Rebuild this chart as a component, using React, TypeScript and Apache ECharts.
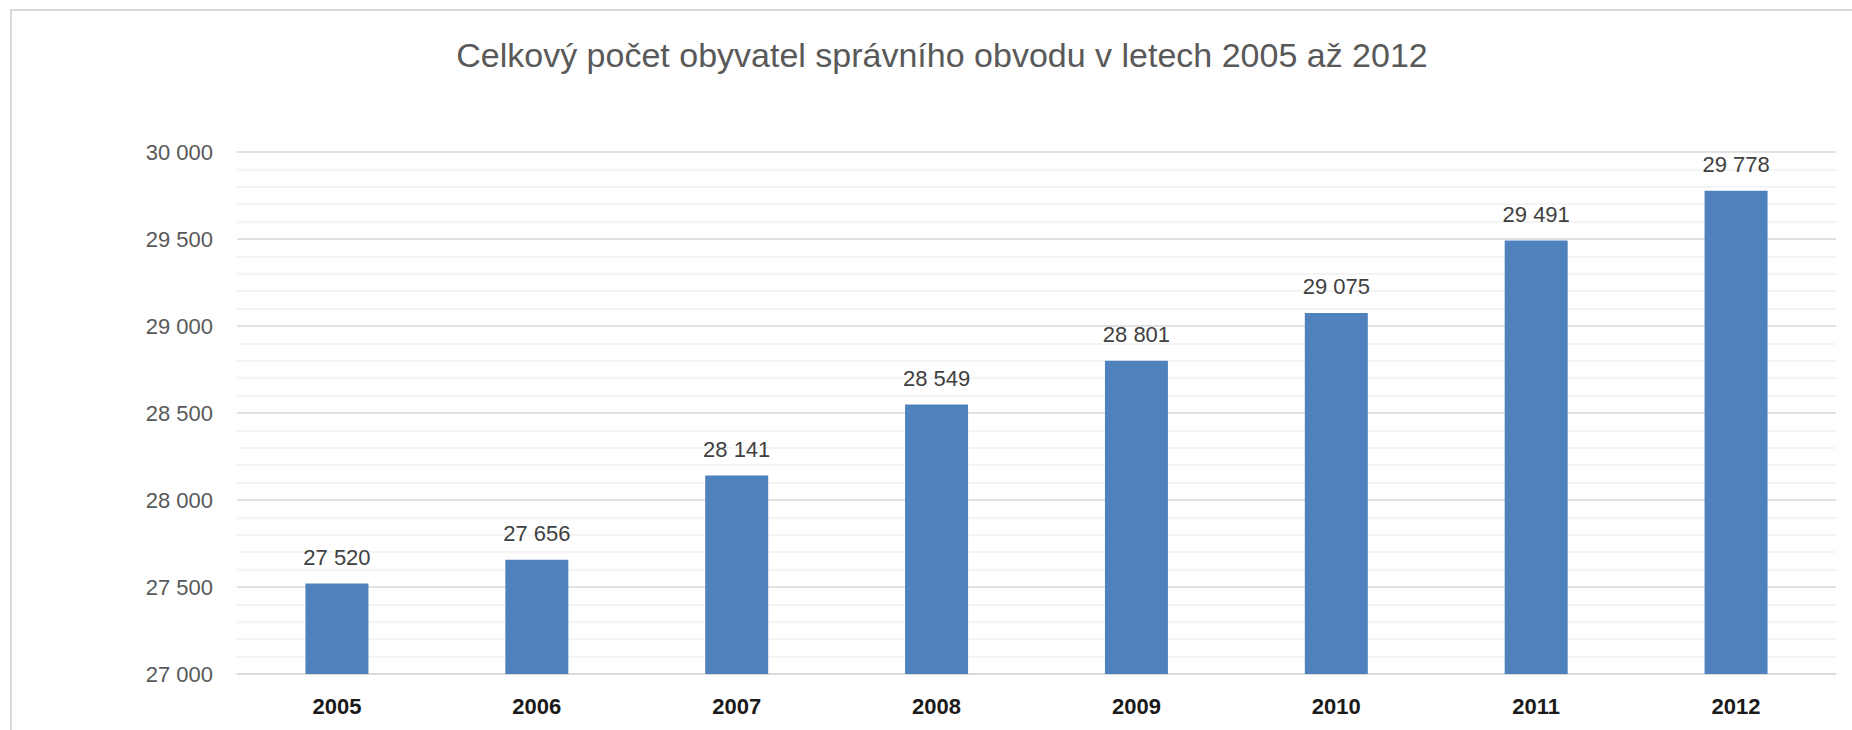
import React, { useEffect, useRef } from "react";
import * as echarts from "echarts";

const TITLE = "Celkový počet obyvatel správního obvodu v letech 2005 až 2012";
const years = ["2005", "2006", "2007", "2008", "2009", "2010", "2011", "2012"];
const population = [27520, 27656, 28141, 28549, 28801, 29075, 29491, 29778];
const yMin = 27000;
const yMax = 30000;
const yStep = 500;

const fmt = (v: number) => {
  const s = String(Math.round(v));
  return s.replace(/\B(?=(\d{3})+(?!\d))/g, " ");
};

const FONT = "'Liberation Sans', Arial, sans-serif";

export default function App() {
  const ref = useRef<HTMLDivElement>(null);
  useEffect(() => {
    document.body.style.margin = "0";
    const chart = echarts.init(ref.current!, null, { renderer: "svg" });
    chart.setOption({
      animation: false,
      backgroundColor: "#ffffff",
      graphic: [
        {
          type: "rect",
          silent: true,
          shape: { x: 11, y: 10, width: 1900, height: 800 },
          style: { fill: "none", stroke: "#d9d9d9", lineWidth: 2 },
          z: -1,
        },
        {
          type: "text",
          x: 942,
          y: 55,
          style: {
            text: TITLE,
            fill: "#595959",
            font: `34px ${FONT}`,
            textAlign: "center",
            textVerticalAlign: "middle",
          },
        },
      ],
      grid: { left: 237, top: 152, width: 1599, height: 522, containLabel: false },
      xAxis: {
        type: "category",
        data: years,
        axisLine: { show: true, lineStyle: { color: "#d9d9d9", width: 1.5 } },
        axisTick: { show: false },
        axisLabel: {
          color: "#1a1a1a",
          fontFamily: FONT,
          fontSize: 22,
          fontWeight: "bold",
          margin: 21,
        },
      },
      yAxis: {
        type: "value",
        min: yMin,
        max: yMax,
        interval: yStep,
        axisLine: { show: false },
        axisTick: { show: false },
        axisLabel: {
          color: "#595959",
          fontFamily: FONT,
          fontSize: 22,
          margin: 24,
          formatter: (v: number) => fmt(v),
        },
        splitLine: { show: true, lineStyle: { color: "#d9d9d9", width: 1.5 } },
        minorTick: { show: false, splitNumber: 5 },
        minorSplitLine: { show: true, lineStyle: { color: "#f0f0f0", width: 1.5 } },
      },
      series: [
        {
          type: "bar",
          data: population,
          barWidth: 63,
          itemStyle: { color: "#4f81bd" },
          label: {
            show: true,
            position: "top",
            distance: 15,
            color: "#404040",
            fontFamily: FONT,
            fontSize: 22,
            formatter: (p: any) => fmt(p.value),
          },
        },
      ],
    });
    return () => chart.dispose();
  }, []);
  return <div ref={ref} style={{ width: 1852, height: 730 }} />;
}
